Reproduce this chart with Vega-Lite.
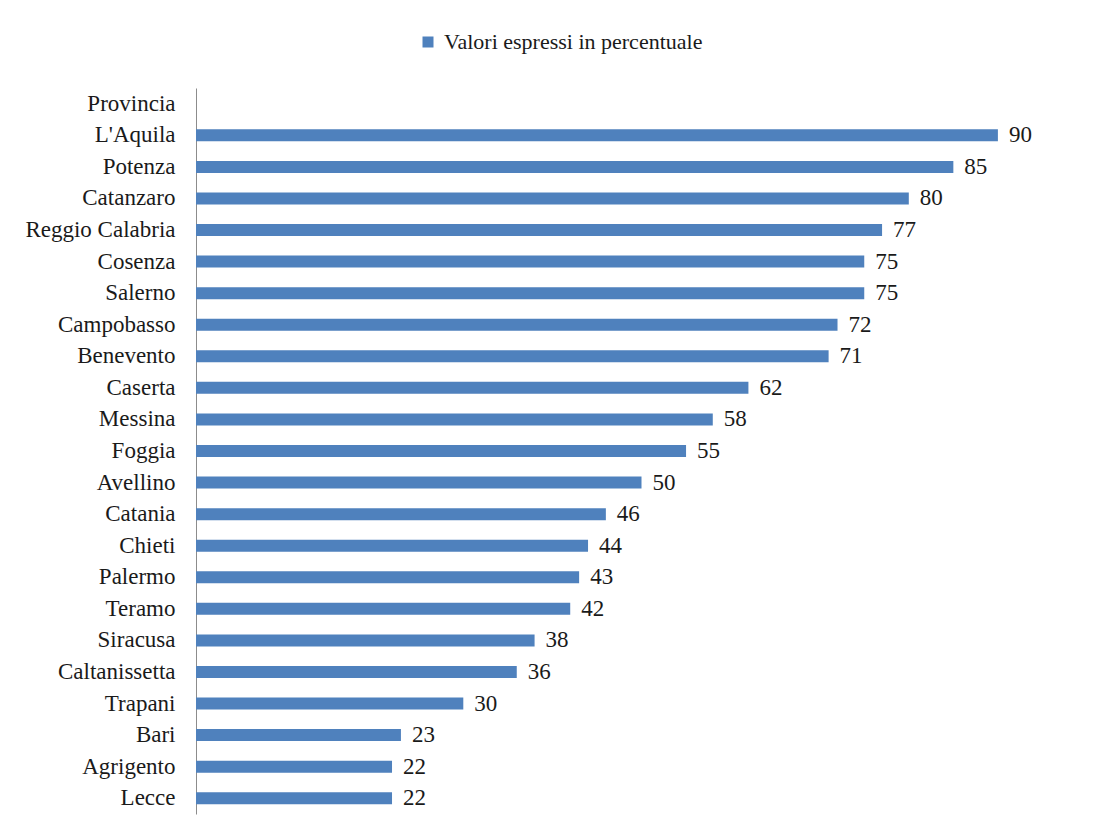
{
  "$schema": "https://vega.github.io/schema/vega-lite/v6.json",
  "width": 891,
  "height": 726,
  "autosize": "none",
  "padding": {"left": 196, "top": 88, "right": 14, "bottom": 18},
  "background": "white",
  "config": {
    "view": {"stroke": null},
    "font": "Liberation Serif"
  },
  "data": {
    "values": [
      {"provincia": "Provincia", "valore": null},
      {"provincia": "L'Aquila", "valore": 90},
      {"provincia": "Potenza\u2005", "valore": 85},
      {"provincia": "Catanzaro", "valore": 80},
      {"provincia": "Reggio Calabria\u2005", "valore": 77},
      {"provincia": "Cosenza\u2005", "valore": 75},
      {"provincia": "Salerno", "valore": 75},
      {"provincia": "Campobasso", "valore": 72},
      {"provincia": "Benevento", "valore": 71},
      {"provincia": "Caserta\u2005", "valore": 62},
      {"provincia": "Messina", "valore": 58},
      {"provincia": "Foggia\u2005", "valore": 55},
      {"provincia": "Avellino\u2005", "valore": 50},
      {"provincia": "Catania", "valore": 46},
      {"provincia": "Chieti", "valore": 44},
      {"provincia": "Palermo", "valore": 43},
      {"provincia": "Teramo", "valore": 42},
      {"provincia": "Siracusa", "valore": 38},
      {"provincia": "Caltanissetta", "valore": 36},
      {"provincia": "Trapani", "valore": 30},
      {"provincia": "Bari", "valore": 23},
      {"provincia": "Agrigento", "valore": 22},
      {"provincia": "Lecce\u2005", "valore": 22}
    ]
  },
  "encoding": {
    "y": {
      "field": "provincia",
      "type": "nominal",
      "sort": null,
      "scale": {
        "domain": ["Provincia", "L'Aquila", "Potenza\u2005", "Catanzaro", "Reggio Calabria\u2005", "Cosenza\u2005", "Salerno", "Campobasso", "Benevento", "Caserta\u2005", "Messina", "Foggia\u2005", "Avellino\u2005", "Catania", "Chieti", "Palermo", "Teramo", "Siracusa", "Caltanissetta", "Trapani", "Bari", "Agrigento", "Lecce\u2005"],
        "paddingInner": 0.62,
        "paddingOuter": 0.31
      },
      "axis": {
        "title": null,
        "ticks": false,
        "domainColor": "#8c8c8c",
        "domainWidth": 1,
        "labelFont": "Liberation Serif",
        "labelFontSize": 23,
        "labelColor": "#1a1a1a",
        "labelPadding": 21,
        "labelLimit": 300
      }
    },
    "x": {
      "field": "valore",
      "type": "quantitative",
      "scale": {"domain": [0, 100]},
      "axis": null
    }
  },
  "layer": [
    {
      "mark": {"type": "bar"},
      "encoding": {
        "color": {
          "datum": "Valori espressi in percentuale",
          "type": "nominal",
          "scale": {"range": ["#4f81bd"]},
          "legend": {
            "title": null,
            "orient": "none",
            "legendX": 221,
            "legendY": -57,
            "symbolType": "square",
            "symbolSize": 121,
            "symbolStrokeWidth": 0,
            "labelFont": "Liberation Serif",
            "labelFontSize": 22,
            "labelColor": "#1a1a1a",
            "labelOffset": 5,
            "labelLimit": 600
          }
        }
      }
    },
    {
      "mark": {
        "type": "text",
        "align": "left",
        "baseline": "middle",
        "dx": 11,
        "font": "Liberation Serif",
        "fontSize": 23,
        "color": "#1a1a1a"
      },
      "encoding": {
        "text": {"field": "valore", "type": "quantitative"}
      }
    }
  ]
}
